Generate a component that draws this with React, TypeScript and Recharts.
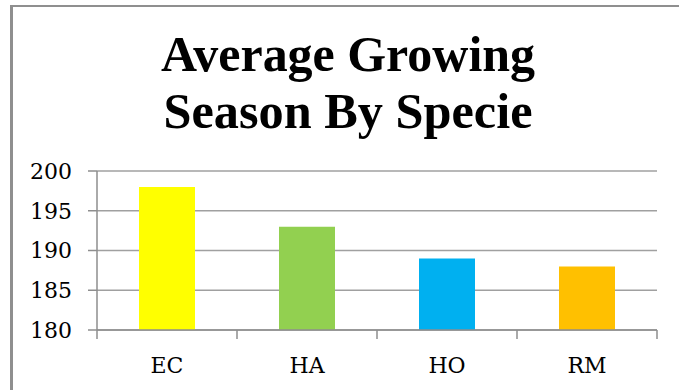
import React from 'react';
import { BarChart, Bar, XAxis, YAxis, CartesianGrid, Cell } from 'recharts';

const categories = ['EC', 'HA', 'HO', 'RM'];
const values = [198, 193, 189, 188];
const barColors = ['#FFFF00', '#92D050', '#00B0F0', '#FFC000'];
const yTicks = [180, 185, 190, 195, 200];
const titleLines = ['Average Growing', 'Season By Specie'];

const data = categories.map((c, i) => ({ name: c, value: values[i] }));

const W = 679;
const H = 390;
const MARGIN = { top: 171, right: 22, bottom: 20, left: 10 };
const Y_AXIS_W = 87;
const PLOT_W = W - MARGIN.left - MARGIN.right - Y_AXIS_W;
const BAND = PLOT_W / categories.length;
const AXIS_COLOR = '#8e8e8e';
const GRID_COLOR = '#a0a0a0';
const TICK_FONT = { fontFamily: 'DejaVu Serif', fontSize: 22, fill: '#000' };
const TITLE_WIDTHS = [374, 369];

const XTick = (props: any) => {
  const { x, y, payload, index } = props;
  const isLast = index === categories.length - 1;
  return (
    <g>
      <line x1={x - BAND / 2} y1={y} x2={x - BAND / 2} y2={y + 9} stroke={AXIS_COLOR} strokeWidth={1.5} />
      {isLast && (
        <line x1={x + BAND / 2} y1={y} x2={x + BAND / 2} y2={y + 9} stroke={AXIS_COLOR} strokeWidth={1.5} />
      )}
      <text x={x} y={y + 43} textAnchor="middle" style={TICK_FONT as any}>
        {payload.value}
      </text>
    </g>
  );
};

export default function App() {
  return (
    <div style={{ position: 'absolute', left: 0, top: 0, width: W, height: H, background: '#fff', overflow: 'hidden' }}>
      <div
        style={{
          position: 'absolute',
          left: 10,
          top: 5,
          width: 900,
          height: 600,
          borderLeft: '3px solid #8f8f8f',
          borderTop: '2px solid #8f8f8f',
          boxSizing: 'border-box',
        }}
      />
      <div style={{ position: 'absolute', left: 0, top: 0 }}>
        <BarChart width={W} height={H} data={data} margin={MARGIN} barCategoryGap="30%">
          <CartesianGrid vertical={false} stroke={GRID_COLOR} strokeWidth={1.5} />
          <XAxis
            dataKey="name"
            stroke={AXIS_COLOR}
            strokeWidth={1.5}
            tickLine={false}
            tickSize={0}
            tickMargin={0}
            height={40}
            interval={0}
            tick={<XTick />}
          />
          <YAxis
            domain={[180, 200]}
            ticks={yTicks}
            width={Y_AXIS_W}
            stroke={AXIS_COLOR}
            strokeWidth={1.5}
            tickSize={9}
            tickMargin={16}
            tick={TICK_FONT}
            allowDataOverflow
          />
          <Bar dataKey="value" isAnimationActive={false}>
            {data.map((d, i) => (
              <Cell key={d.name} fill={barColors[i]} />
            ))}
          </Bar>
        </BarChart>
      </div>
      <svg width={W} height={H} style={{ position: 'absolute', left: 0, top: 0, pointerEvents: 'none' }}>
        {titleLines.map((t, i) => (
          <text
            key={t}
            x={348}
            y={71 + i * 57}
            textAnchor="middle"
            textLength={TITLE_WIDTHS[i]}
            lengthAdjust="spacingAndGlyphs"
            style={{ fontFamily: 'Liberation Serif', fontWeight: 'bold', fontSize: 50, fill: '#000' }}
          >
            {t}
          </text>
        ))}
      </svg>
    </div>
  );
}
